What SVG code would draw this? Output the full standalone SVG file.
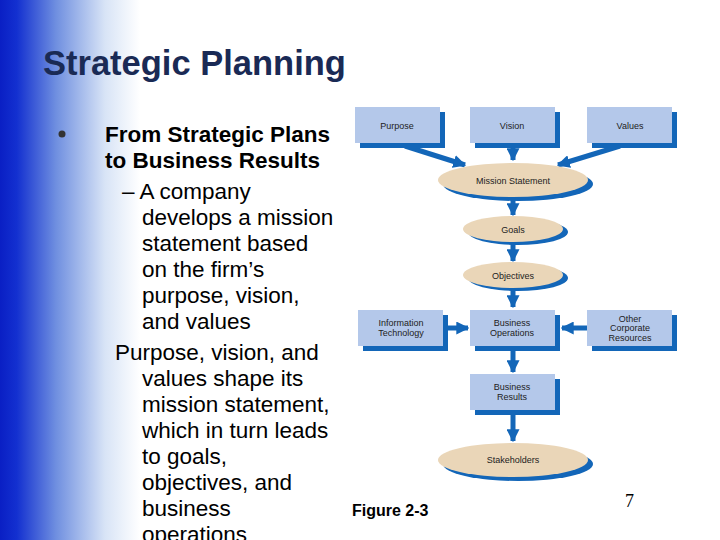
<svg xmlns="http://www.w3.org/2000/svg" width="720" height="540" viewBox="0 0 720 540">
<defs>
<linearGradient id="bg" x1="0" x2="1" y1="0" y2="0">
<stop offset="0" stop-color="#0a1fc4"/><stop offset="0.12" stop-color="#1330d0"/><stop offset="0.4" stop-color="#6f8fe0"/><stop offset="0.75" stop-color="#d8e4f6"/><stop offset="1" stop-color="#ffffff"/>
</linearGradient>
<marker id="ah" viewBox="0 0 10 10" refX="9" refY="5" markerWidth="2.6" markerHeight="2.6" orient="auto"><path d="M0,0 L10,5 L0,10 z" fill="#1366b8"/></marker>
<style>
.box{fill:#b4c8ea}.sh{fill:#1366b8}.ell{fill:#ead6b8}
.nt{font-family:"Liberation Sans",Arial,sans-serif;font-size:9px;fill:#222;text-anchor:middle}
.c{stroke:#1366b8;stroke-width:5;fill:none;marker-end:url(#ah)}
.t{font-family:"Liberation Sans",Arial,sans-serif;font-size:22.5px;fill:#000}
</style>
</defs>
<rect width="720" height="540" fill="#fff"/>
<rect width="140" height="540" fill="url(#bg)"/>
<text x="43" y="75" font-family="Liberation Sans,Arial,sans-serif" font-size="34.5" font-weight="bold" fill="#1a2a55">Strategic Planning</text>
<circle cx="62" cy="134" r="3.5" fill="#333"/>
<g class="t">
<text x="105" y="142" font-weight="bold">From Strategic Plans</text>
<text x="105" y="168" font-weight="bold">to Business Results</text>
<text x="122" y="199">– A company</text>
<text x="142" y="225">develops a mission</text>
<text x="142" y="251">statement based</text>
<text x="142" y="277">on the firm’s</text>
<text x="142" y="303">purpose, vision,</text>
<text x="142" y="329">and values</text>
<text x="115" y="360">Purpose, vision, and</text>
<text x="142" y="386">values shape its</text>
<text x="142" y="412">mission statement,</text>
<text x="142" y="438">which in turn leads</text>
<text x="142" y="464">to goals,</text>
<text x="142" y="490">objectives, and</text>
<text x="142" y="516">business</text>
<text x="142" y="542">operations</text>
</g>
<g id="connectors">
<path class="c" d="M405,146 L465,165"/>
<path class="c" d="M513,145 L513,160"/>
<path class="c" d="M620,146 L558,165"/>
<path class="c" d="M513,199 L513,215"/>
<path class="c" d="M513,243 L513,261"/>
<path class="c" d="M513,289 L513,307"/>
<path class="c" d="M448,328 L468,328"/>
<path class="c" d="M587,328 L562,328"/>
<path class="c" d="M513,350 L513,372"/>
<path class="c" d="M513,414 L513,441"/>
</g>
<g id="purpose"><rect class="sh" x="360" y="112" width="85" height="36"/><rect class="box" x="355" y="107" width="85" height="36"/><text class="nt" x="397" y="129">Purpose</text></g>
<g id="vision"><rect class="sh" x="475" y="112" width="85" height="36"/><rect class="box" x="470" y="107" width="85" height="36"/><text class="nt" x="512" y="129">Vision</text></g>
<g id="values"><rect class="sh" x="592" y="112" width="85" height="36"/><rect class="box" x="587" y="107" width="85" height="36"/><text class="nt" x="630" y="129">Values</text></g>
<g id="mission"><ellipse class="sh" cx="518" cy="184" rx="75" ry="17"/><ellipse class="ell" cx="513" cy="180" rx="75" ry="17"/><text class="nt" x="513" y="184">Mission Statement</text></g>
<g id="goals"><ellipse class="sh" cx="518" cy="232" rx="50" ry="13"/><ellipse class="ell" cx="513" cy="229" rx="50" ry="13"/><text class="nt" x="513" y="233">Goals</text></g>
<g id="objectives"><ellipse class="sh" cx="518" cy="278" rx="50" ry="13"/><ellipse class="ell" cx="513" cy="275" rx="50" ry="13"/><text class="nt" x="513" y="279">Objectives</text></g>
<g id="it"><rect class="sh" x="363" y="315" width="85" height="36"/><rect class="box" x="358" y="310" width="85" height="36"/><text class="nt" x="401" y="326">Information</text><text class="nt" x="401" y="336">Technology</text></g>
<g id="busops"><rect class="sh" x="475" y="315" width="85" height="36"/><rect class="box" x="470" y="310" width="85" height="36"/><text class="nt" x="512" y="326">Business</text><text class="nt" x="512" y="336">Operations</text></g>
<g id="other"><rect class="sh" x="592" y="315" width="85" height="36"/><rect class="box" x="587" y="310" width="85" height="36"/><text class="nt" x="630" y="322">Other</text><text class="nt" x="630" y="331">Corporate</text><text class="nt" x="630" y="341">Resources</text></g>
<g id="results"><rect class="sh" x="475" y="379" width="85" height="36"/><rect class="box" x="470" y="374" width="85" height="36"/><text class="nt" x="512" y="390">Business</text><text class="nt" x="512" y="400">Results</text></g>
<g id="stakeholders"><ellipse class="sh" cx="518" cy="464" rx="75" ry="17"/><ellipse class="ell" cx="513" cy="460" rx="75" ry="17"/><text class="nt" x="513" y="463">Stakeholders</text></g>
<text x="352" y="516" font-family="Liberation Sans,Arial,sans-serif" font-size="16" font-weight="bold">Figure 2-3</text>
<text x="625" y="507" font-family="Liberation Serif,serif" font-size="18">7</text>
</svg>
